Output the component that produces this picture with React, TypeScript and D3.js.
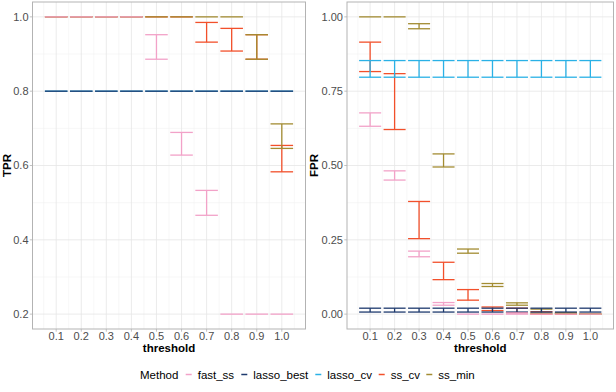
import React from 'react';
import * as d3 from 'd3';

const thresholds = ['0.1', '0.2', '0.3', '0.4', '0.5', '0.6', '0.7', '0.8', '0.9', '1.0'];
const methods = ['fast_ss', 'lasso_best', 'lasso_cv', 'ss_cv', 'ss_min'];
const methodColors = ['#F2A2C8', '#1E3A6E', '#2AB1E6', '#F2502B', '#A38C32'];

// [low, high] per threshold
const tprFastSs: [number, number][] = [[1, 1], [1, 1], [1, 1], [1, 1], [0.886, 0.952], [0.628, 0.689], [0.466, 0.533], [0.2, 0.2], [0.2, 0.2], [0.2, 0.2]];
const tprLassoBest: [number, number][] = [[0.8, 0.8], [0.8, 0.8], [0.8, 0.8], [0.8, 0.8], [0.8, 0.8], [0.8, 0.8], [0.8, 0.8], [0.8, 0.8], [0.8, 0.8], [0.8, 0.8]];
const tprLassoCv: [number, number][] = [[0.8, 0.8], [0.8, 0.8], [0.8, 0.8], [0.8, 0.8], [0.8, 0.8], [0.8, 0.8], [0.8, 0.8], [0.8, 0.8], [0.8, 0.8], [0.8, 0.8]];
const tprSsCv: [number, number][] = [[1, 1], [1, 1], [1, 1], [1, 1], [1, 1], [1, 1], [0.932, 0.985], [0.908, 0.969], [0.886, 0.952], [0.583, 0.654]];
const tprSsMin: [number, number][] = [[1, 1], [1, 1], [1, 1], [1, 1], [1, 1], [1, 1], [1, 1], [1, 1], [0.886, 0.952], [0.646, 0.712]];

const fprFastSs: [number, number][] = [[0.632, 0.677], [0.451, 0.482], [0.193, 0.212], [0.03, 0.039], [0, 0], [0, 0], [0, 0.004], [0, 0], [0, 0], [0, 0]];
const fprLassoBest: [number, number][] = [[0.007, 0.02], [0.007, 0.02], [0.007, 0.02], [0.007, 0.02], [0.007, 0.02], [0.007, 0.02], [0.007, 0.02], [0.007, 0.02], [0.007, 0.02], [0.007, 0.02]];
const fprLassoCv: [number, number][] = [[0.797, 0.853], [0.797, 0.853], [0.797, 0.853], [0.797, 0.853], [0.797, 0.853], [0.797, 0.853], [0.797, 0.853], [0.797, 0.853], [0.797, 0.853], [0.797, 0.853]];
const fprSsCv: [number, number][] = [[0.816, 0.915], [0.621, 0.809], [0.254, 0.379], [0.116, 0.1745], [0.047, 0.0826], [0.012, 0.024], [0.005, 0.02], [0, 0.008], [0, 0.002], [0, 0]];
const fprSsMin: [number, number][] = [[1, 1], [1, 1], [0.96, 0.977], [0.495, 0.539], [0.205, 0.219], [0.093, 0.103], [0.03, 0.038], [0.003, 0.017], [0.002, 0.005], [0, 0.001]];

const tprTicks = [0.2, 0.4, 0.6, 0.8, 1.0];
const tprMinor = [0.3, 0.5, 0.7, 0.9];
const fprTicks = [0, 0.25, 0.5, 0.75, 1.0];
const fprMinor = [0.125, 0.375, 0.625, 0.875];

const tprSeries = [tprFastSs, tprLassoBest, tprLassoCv, tprSsCv, tprSsMin];
const fprSeries = [fprFastSs, fprLassoBest, fprLassoCv, fprSsCv, fprSsMin];
// drawing order (index into methods)
const drawOrder = [3, 4, 2, 1, 0];

const FONT = '"Liberation Sans", Arial, Helvetica, sans-serif';

function Panel(props: {
  x0: number; x1: number; y0: number; y1: number;
  domain: [number, number]; ticks: number[]; minor: number[];
  fmt: (v: number) => string; series: [number, number][][]; title: string; titleX: number;
}) {
  const { x0, x1, y0, y1, domain, ticks, minor, fmt, series, title, titleX } = props;
  const x = d3.scaleLinear().domain([0.055, 10.945]).range([x0, x1]);
  const y = d3.scaleLinear().domain(domain).range([y1, y0]);
  const half = 0.45;
  const xMinor = d3.range(0, thresholds.length + 1).map((i) => i + 0.5);
  return (
    <g>
      {minor.map((v) => (
        <line key={'hm' + v} x1={x0} x2={x1} y1={y(v)} y2={y(v)} stroke="#F0F0F0" strokeWidth={0.55} />
      ))}
      {xMinor.map((v) => (
        <line key={'vm' + v} x1={x(v)} x2={x(v)} y1={y0} y2={y1} stroke="#F0F0F0" strokeWidth={0.55} />
      ))}
      {ticks.map((v) => (
        <line key={'hM' + v} x1={x0} x2={x1} y1={y(v)} y2={y(v)} stroke="#E6E6E6" strokeWidth={0.8} />
      ))}
      {thresholds.map((t, i) => (
        <line key={'vM' + t} x1={x(i + 1)} x2={x(i + 1)} y1={y0} y2={y1} stroke="#E6E6E6" strokeWidth={0.8} />
      ))}
      {drawOrder.map((m) => (
        <g key={methods[m]} stroke={methodColors[m]} strokeWidth={1.3}>
          {series[m].map(([lo, hi], i) => {
            const cx = x(i + 1);
            return (
              <g key={i}>
                <line x1={x(i + 1 - half)} x2={x(i + 1 + half)} y1={y(hi)} y2={y(hi)} />
                {hi !== lo && <line x1={cx} x2={cx} y1={y(hi)} y2={y(lo)} />}
                {hi !== lo && <line x1={x(i + 1 - half)} x2={x(i + 1 + half)} y1={y(lo)} y2={y(lo)} />}
              </g>
            );
          })}
        </g>
      ))}
      <rect x={x0} y={y0} width={x1 - x0} height={y1 - y0} fill="none" stroke="#B3B3B3" strokeWidth={1} />
      {ticks.map((v) => (
        <g key={'yt' + v}>
          <line x1={x0 - 2.7} x2={x0} y1={y(v)} y2={y(v)} stroke="#B3B3B3" strokeWidth={0.8} />
          <text x={x0 - 4} y={y(v)} dy="0.36em" textAnchor="end" fontSize={11} fill="#4D4D4D" fontFamily={FONT}>
            {fmt(v)}
          </text>
        </g>
      ))}
      {thresholds.map((t, i) => (
        <g key={'xt' + t}>
          <line x1={x(i + 1)} x2={x(i + 1)} y1={y1} y2={y1 + 2.7} stroke="#B3B3B3" strokeWidth={0.8} />
          <text x={x(i + 1)} y={y1 + 11} textAnchor="middle" fontSize={11} fill="#4D4D4D" fontFamily={FONT}>
            {t}
          </text>
        </g>
      ))}
      <text x={(x0 + x1) / 2} y={y1 + 23} textAnchor="middle" fontSize={11.5} fontWeight="bold" fill="#000" fontFamily={FONT}>
        threshold
      </text>
      <text
        transform={`translate(${titleX},${(y0 + y1) / 2}) rotate(-90)`}
        textAnchor="middle"
        fontSize={11.5}
        fontWeight="bold"
        fill="#000"
        fontFamily={FONT}
      >
        {title}
      </text>
    </g>
  );
}

const legendTextX = [197.7, 253.3, 327.3, 390.7, 438.3];

export default function App() {
  return (
    <svg width={616} height={392} style={{ position: 'absolute', left: 0, top: 0, background: '#fff' }}>
      <rect width={616} height={392} fill="#fff" />
      <Panel
        x0={32.5} x1={305.5} y0={2} y1={329}
        domain={[0.16, 1.04]} ticks={tprTicks} minor={tprMinor}
        fmt={d3.format('.1f')} series={tprSeries} title="TPR" titleX={11}
      />
      <Panel
        x0={347} x1={613.5} y0={2} y1={329}
        domain={[-0.05, 1.05]} ticks={fprTicks} minor={fprMinor}
        fmt={d3.format('.2f')} series={fprSeries} title="FPR" titleX={318}
      />
      <text x={140} y={378.5} fontSize={11.5} fill="#000" fontFamily={FONT}>Method</text>
      {methods.map((m, i) => (
        <g key={m}>
          <line x1={legendTextX[i] - 12} x2={legendTextX[i] - 6} y1={374.5} y2={374.5} stroke={methodColors[i]} strokeWidth={1.5} />
          <text x={legendTextX[i]} y={378.5} fontSize={11.5} fill="#000" fontFamily={FONT}>{m}</text>
        </g>
      ))}
    </svg>
  );
}
